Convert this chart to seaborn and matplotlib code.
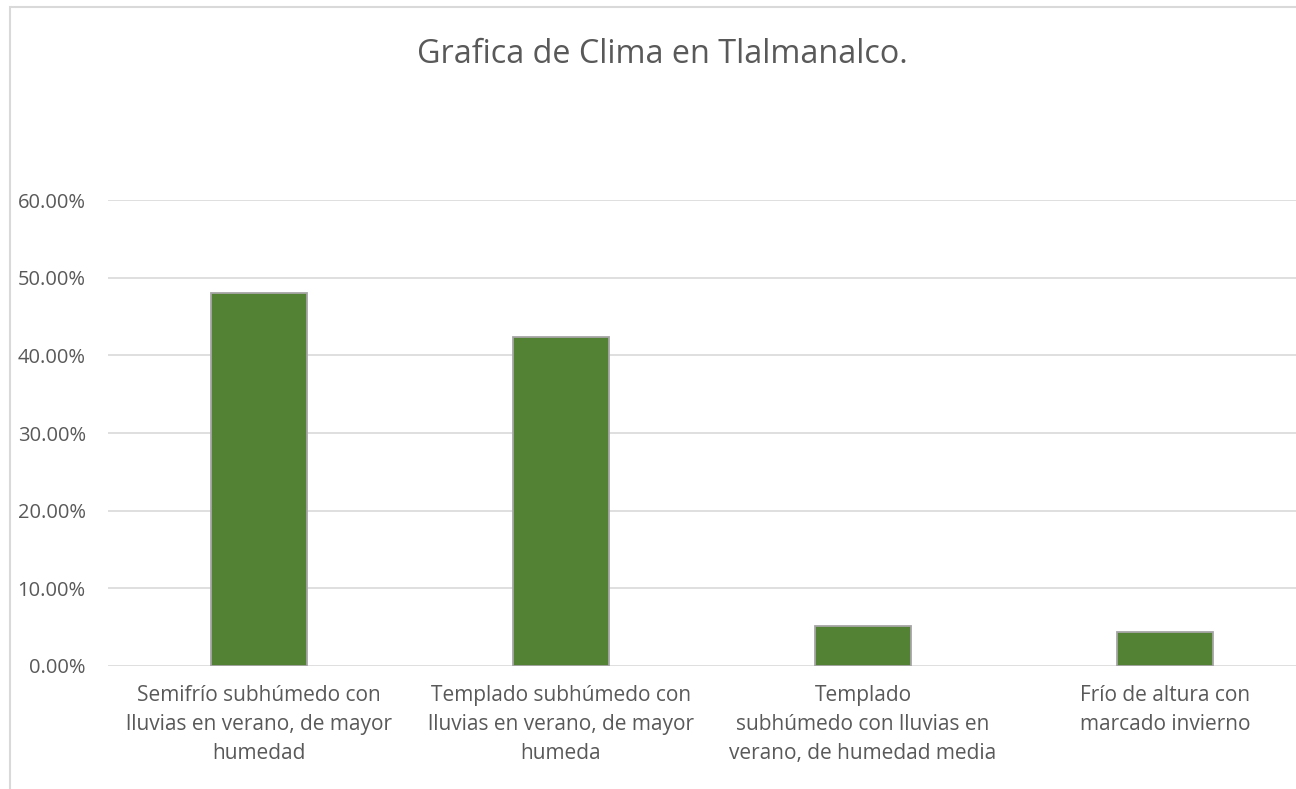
import matplotlib
matplotlib.use("Agg")
import matplotlib.pyplot as plt
import matplotlib.patches as mpatches
from matplotlib.ticker import FuncFormatter
import pandas as pd
import seaborn as sns

categorias = [
    "Semifrío subhúmedo con\nlluvias en verano, de mayor\nhumedad",
    "Templado subhúmedo con\nlluvias en verano, de mayor\nhumeda",
    "Templado\nsubhúmedo con lluvias en\nverano, de humedad media",
    "Frío de altura con\nmarcado invierno",
]
porcentajes = [48.1, 42.4, 5.1, 4.4]
y_ticks = [0, 10, 20, 30, 40, 50, 60]

df = pd.DataFrame({"clima": categorias, "pct": porcentajes})

sns.set_style("white")
plt.rcParams["font.family"] = ["Open Sans", "DejaVu Sans"]

texto = "#595959"
rejilla = "#d9d9d9"

fig = plt.figure(figsize=(12.96, 7.89), dpi=100)
ax = fig.add_axes([108 / 1296, 123.3 / 789, 1208 / 1296, 465.4 / 789])

sns.barplot(data=df, x="clima", y="pct", color="#548235", width=0.315,
            edgecolor="#a6a6a6", linewidth=1.3, saturation=1, ax=ax, zorder=3)

ax.set_xlim(-0.5, 3.5)
ax.set_ylim(0, 60)
ax.set_yticks(y_ticks)
ax.yaxis.set_major_formatter(FuncFormatter(lambda v, _: f"{v:.2f}%"))
ax.grid(axis="y", color=rejilla, linewidth=1.2, zorder=0)
ax.set_axisbelow(True)
for s in ax.spines.values():
    s.set_visible(False)
ax.tick_params(axis="y", length=0, pad=16, labelsize=14.5, labelcolor=texto)
ax.tick_params(axis="x", length=0, pad=14, labelsize=15, labelcolor=texto)
for lbl in ax.get_xticklabels():
    lbl.set_linespacing(1.48)
ax.set_xlabel("")
ax.set_ylabel("")

fig.text(662 / 1296, 1 - 63 / 789, "Grafica de Clima en Tlalmanalco.", ha="center",
         va="baseline", fontsize=23.3, color=texto)

# marco exterior del gráfico
fig.patches.append(mpatches.Rectangle((10 / 1296, -0.05), 1.2, 1.05 - 6.5 / 789,
                                      transform=fig.transFigure, fill=False,
                                      edgecolor=rejilla, linewidth=1.5))

fig.savefig("out.png", dpi=100)
